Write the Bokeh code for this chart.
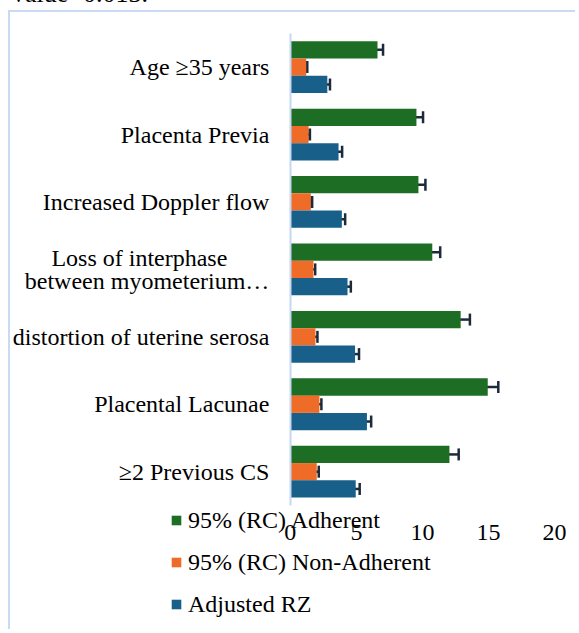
from bokeh.plotting import figure
from bokeh.layouts import column
from bokeh.models import (ColumnDataSource, Whisker, TeeHead, Legend, LegendItem,
                          Range1d, FixedTicker, Div)
from bokeh.transform import dodge
from bokeh.embed import file_html
from bokeh.resources import INLINE

categories = ["Age \u226535 years", "Placenta Previa", "Increased Doppler flow",
              "Loss of interphase" + "\u00a0" * 7 + "\nbetween myometerium\u2026",
              "distortion of uterine serosa", "Placental Lacunae", "\u22652 Previous CS"]
adherent = [6.6, 9.55, 9.7, 10.75, 12.9, 14.95, 12.05]
adherent_err = [0.42, 0.5, 0.53, 0.6, 0.7, 0.8, 0.7]
non_adherent = [1.2, 1.38, 1.55, 1.75, 1.9, 2.2, 2.0]
non_adherent_err = [0.08, 0.1, 0.1, 0.13, 0.15, 0.15, 0.15]
adjusted_rz = [2.8, 3.65, 3.9, 4.33, 4.9, 5.8, 4.95]
adjusted_rz_err = [0.2, 0.27, 0.25, 0.25, 0.3, 0.32, 0.3]
series_names = ["95% (RC) Adherent", "95% (RC) Non-Adherent", "Adjusted RZ"]
x_ticks = [0, 5, 10, 15, 20]
caption = "value=0.013."

colors = ["#1d6d24", "#ee6c28", "#18608a"]
FONT = "Liberation Serif"

# category slots: first category on top
ypos = list(range(len(categories), 0, -1))

data = dict(cat=categories, pos=ypos)
for key, vals, errs in [("a", adherent, adherent_err), ("n", non_adherent, non_adherent_err),
                        ("z", adjusted_rz, adjusted_rz_err)]:
    data[key] = vals
    data[key + "_lo"] = [v - e for v, e in zip(vals, errs)]
    data[key + "_hi"] = [v + e for v, e in zip(vals, errs)]
src = ColumnDataSource(data)

n = len(categories)
p = figure(width=567, height=619, output_backend="svg", toolbar_location=None,
           x_range=Range1d(-21.2, 21.75), y_range=Range1d(-1.37, n + 0.81),
           min_border_left=0, min_border_top=0, min_border_right=0, min_border_bottom=0,
           outline_line_color=None)
p.styles = {"margin-left": "8px", "margin-top": "-2px",
            "border-left": "2px solid #c9dbf2", "border-top": "2px solid #c9dbf2"}
p.xgrid.visible = False
p.ygrid.visible = False

p.yaxis.fixed_location = 0
p.yaxis.bounds = (0.5, n + 0.5)
p.yaxis.ticker = FixedTicker(ticks=ypos)
p.yaxis.major_label_overrides = {y: c for y, c in zip(ypos, categories)}
p.yaxis.axis_line_color = "#c5d8f0"
p.yaxis.axis_line_width = 2
p.yaxis.major_tick_line_color = None
p.yaxis.minor_tick_line_color = None
p.yaxis.major_tick_out = 0
p.yaxis.major_tick_in = 0
p.yaxis.major_label_standoff = 21
p.yaxis.major_label_text_font = FONT
p.yaxis.major_label_text_font_size = "24px"
p.yaxis.major_label_text_color = "#000000"
p.yaxis.major_label_text_line_height = 0.9

p.xaxis.fixed_location = 0.5
p.xaxis.axis_line_color = None
p.xaxis.major_tick_line_color = None
p.xaxis.minor_tick_line_color = None
p.xaxis.major_tick_out = 0
p.xaxis.major_tick_in = 0
p.xaxis.ticker = FixedTicker(ticks=x_ticks)
p.xaxis.major_label_standoff = 20
p.xaxis.major_label_text_font = FONT
p.xaxis.major_label_text_font_size = "24px"
p.xaxis.major_label_text_color = "#000000"

off = 0.256
renderers = []
for key, o, c in [("a", off, colors[0]), ("n", 0.0, colors[1]), ("z", -off, colors[2])]:
    r = p.hbar(y=dodge("pos", o), left=0, right=key, height=off,
               source=src, fill_color=c, line_color=None)
    renderers.append(r)
    w = Whisker(base=dodge("pos", o), lower=key + "_lo", upper=key + "_hi",
                dimension="width", source=src, line_color="#1c2a3a", line_width=2.5,
                lower_head=TeeHead(size=12, line_color="#1c2a3a", line_width=2.5),
                upper_head=TeeHead(size=12, line_color="#1c2a3a", line_width=2.5))
    p.add_layout(w)

legend = Legend(items=[LegendItem(label=s, renderers=[r]) for s, r in zip(series_names, renderers)],
                location=(160, 13), orientation="vertical", padding=0, margin=0,
                spacing=14, label_height=28, glyph_height=12, glyph_width=12, label_standoff=6,
                label_text_font=FONT, label_text_font_size="24px", label_text_color="#000000",
                border_line_color=None, background_fill_alpha=0)
p.add_layout(legend)

top_text = Div(text=caption, width=300, height=26,
               styles={"font-family": FONT, "font-size": "26px", "line-height": "1",
                       "color": "#000000", "margin-top": "-19px", "margin-left": "12px"})

layout = column(top_text, p, spacing=0)

open("out.html", "w").write(file_html(layout, INLINE))
